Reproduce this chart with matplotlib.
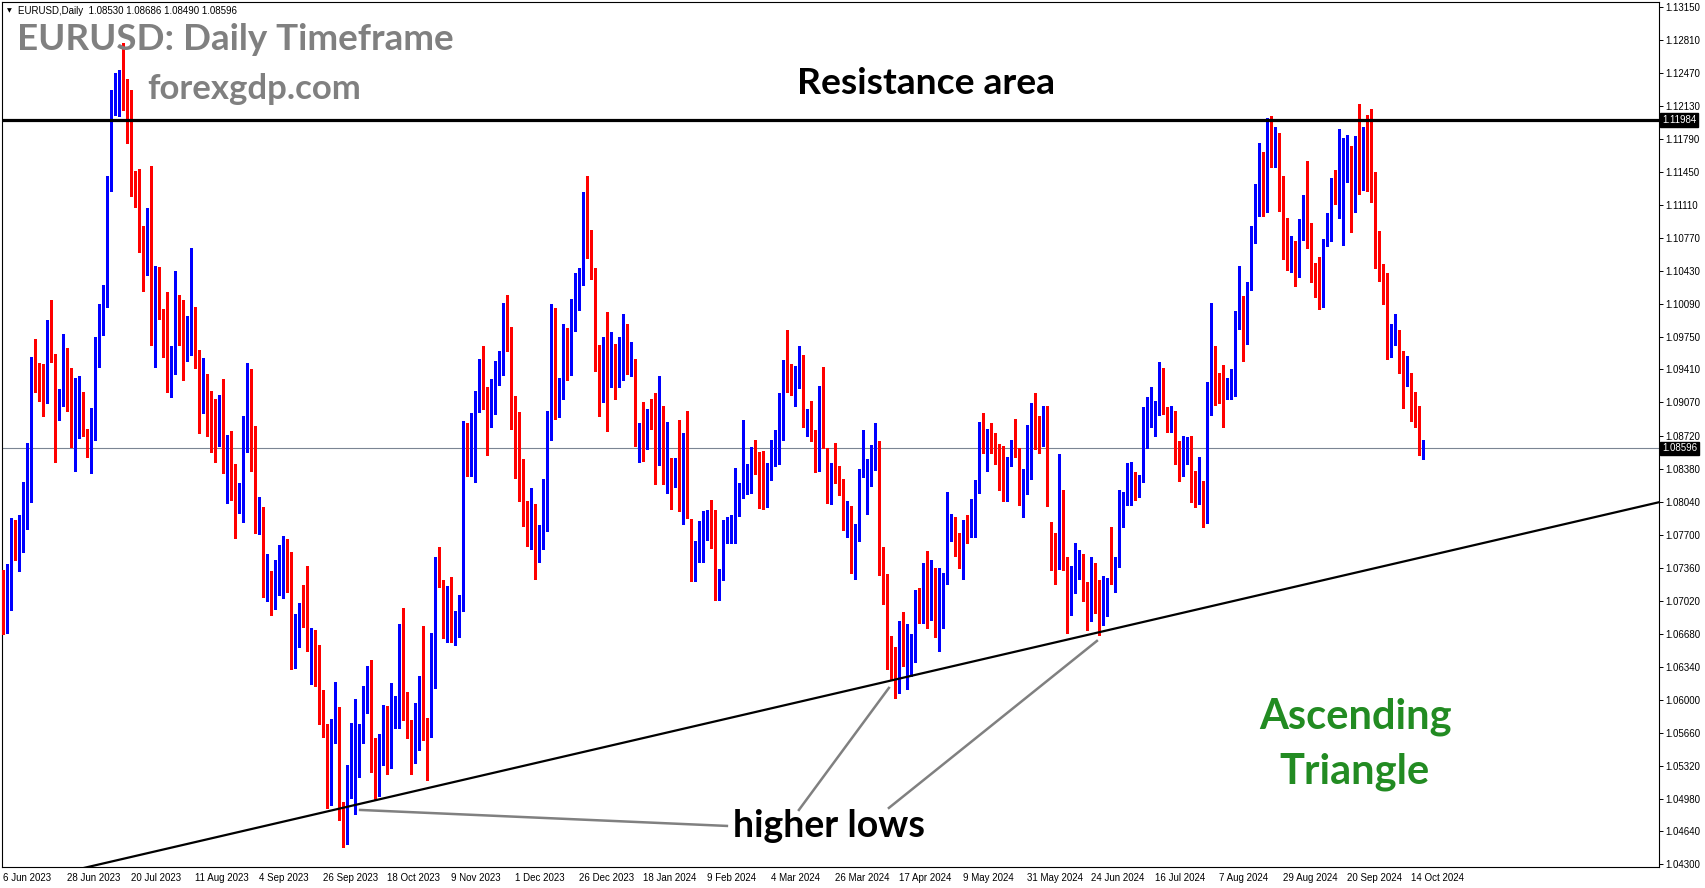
import matplotlib
matplotlib.use("Agg")
import matplotlib.pyplot as plt
import matplotlib.transforms as mtransforms
import numpy as np

# ---------------- data (EURUSD daily) ----------------
opens = [
1.0712,1.0693,1.0698,1.0782,1.0747,1.0755,1.0793,1.0826,1.0945,1.0941,
1.0922,1.0914,1.0987,1.0956,1.0904,1.0906,1.0959,1.0914,1.0866,1.0911,
1.0909,1.0879,1.0855,1.0883,1.0958,1.1001,1.1007,1.1125,1.1224,1.1228,
1.1234,1.1227,1.1199,1.1130,1.1124,1.1065,1.1049,1.1086,1.0977,1.1020,
1.0997,1.0985,1.0938,1.0949,1.1011,1.1004,1.0956,1.0974,1.0978,1.0950,
1.0905,1.0904,1.0879,1.0873,1.0866,1.0892,1.0845,1.0864,1.0811,1.0795,
1.0820,1.0876,1.0924,1.0844,1.0776,1.0792,1.0722,1.0723,1.0698,1.0713,
1.0750,1.0755,1.0729,1.0642,1.0656,1.0692,1.0679,1.0656,1.0658,1.0644,
1.0593,1.0572,1.0501,1.0565,1.0567,1.0478,1.0467,1.0503,1.0542,1.0550,
1.0565,1.0597,1.0619,1.0527,1.0504,1.0560,1.0577,1.0532,1.0583,1.0595,
1.0667,1.0590,1.0567,1.0563,1.0564,1.0616,1.0573,1.0570,1.0621,1.0725,
1.0718,1.0699,1.0709,1.0666,1.0683,1.0698,1.0879,1.0847,1.0852,1.0909,
1.0940,1.0910,1.0888,1.0899,1.0944,1.0953,1.0993,1.0970,1.0888,1.0878,
1.0837,1.0796,1.0762,1.0794,1.0758,1.0764,1.0794,1.0873,1.0990,1.0897,
1.0921,1.0982,1.0937,1.1012,1.1002,1.1041,1.1106,1.1062,1.1045,1.0942,
1.0921,1.0945,1.0933,1.0951,1.0931,1.0972,1.0973,1.0946,1.0949,1.0871,
1.0881,1.0872,1.0892,1.0883,1.0842,1.0883,1.0840,1.0843,1.0831,1.0839,
1.0818,1.0872,1.0786,1.0739,1.0752,1.0770,1.0776,1.0778,1.0772,1.0708,
1.0726,1.0766,1.0774,1.0777,1.0806,1.0818,1.0817,1.0831,1.0848,1.0844,
1.0834,1.0799,1.0827,1.0853,1.0853,1.0894,1.0948,1.0944,1.0919,1.0925,
1.0948,1.0882,1.0892,1.0872,1.0859,1.0920,1.0856,1.0809,1.0837,1.0831,
1.0826,1.0787,1.0787,1.0743,1.0770,1.0835,1.0832,1.0837,1.0854,1.0857,
1.0741,1.0724,1.0640,1.0624,1.0614,1.0673,1.0642,1.0649,1.0652,1.0702,
1.0694,1.0728,1.0688,1.0718,1.0666,1.0696,1.0725,1.0769,1.0768,1.0753,
1.0748,1.0783,1.0770,1.0791,1.0820,1.0884,1.0867,1.0868,1.0858,1.0852,
1.0822,1.0814,1.0845,1.0858,1.0858,1.0801,1.0827,1.0847,1.0906,1.0879,
1.0868,1.0887,1.0773,1.0765,1.0737,1.0809,1.0737,1.0703,1.0734,1.0739,
1.0744,1.0700,1.0681,1.0730,1.0712,1.0679,1.0704,1.0744,1.0738,1.0745,
1.0778,1.0802,1.0802,1.0825,1.0810,1.0825,1.0861,1.0885,1.0893,1.0898,
1.0938,1.0896,1.0884,1.0891,1.0848,1.0837,1.0843,1.0866,1.0821,1.0815,
1.0822,1.0788,1.0925,1.0953,1.0929,1.0922,1.0914,1.0916,1.0931,1.0985,
1.1014,1.0973,1.1028,1.1078,1.1127,1.1145,1.1106,1.1187,1.1161,1.1183,
1.1119,1.1076,1.1047,1.1062,1.1038,1.1081,1.1101,1.1078,1.1034,1.1015,
1.1008,1.1074,1.1076,1.1131,1.1113,1.1118,1.1159,1.1172,1.1110,1.1174,
1.1127,1.1173,1.1153,1.1125,1.1066,1.1045,1.1031,1.0964,1.0971,1.0971,
1.0939,1.0925,1.0932,1.0899,1.0888,1.08530]

highs = [
1.0734,1.0740,1.0788,1.0786,1.0791,1.0825,1.0865,1.0954,1.0972,1.0948,
1.0947,1.0992,1.1013,1.0957,1.0921,1.0978,1.0963,1.0942,1.0932,1.0934,
1.0918,1.0880,1.0901,1.0975,1.1009,1.1028,1.1141,1.1230,1.1247,1.1250,
1.1278,1.1241,1.1230,1.1146,1.1148,1.1089,1.1108,1.1151,1.1048,1.1047,
1.1003,1.1021,1.0965,1.1043,1.1018,1.1013,1.0996,1.1066,1.1006,1.0961,
1.0953,1.0936,1.0919,1.0911,1.0915,1.0931,1.0873,1.0877,1.0843,1.0824,
1.0893,1.0948,1.0941,1.0883,1.0809,1.0799,1.0750,1.0733,1.0744,1.0760,
1.0769,1.0766,1.0753,1.0688,1.0700,1.0718,1.0738,1.0674,1.0672,1.0656,
1.0610,1.0575,1.0580,1.0618,1.0592,1.0494,1.0533,1.0576,1.0601,1.0575,
1.0614,1.0635,1.0641,1.0560,1.0565,1.0595,1.0594,1.0617,1.0604,1.0678,
1.0695,1.0608,1.0579,1.0597,1.0625,1.0676,1.0581,1.0669,1.0747,1.0758,
1.0724,1.0717,1.0727,1.0692,1.0708,1.0888,1.0886,1.0896,1.0919,1.0952,
1.0965,1.0923,1.0931,1.0950,1.0960,1.1010,1.1018,1.0985,1.0914,1.0897,
1.0849,1.0805,1.0819,1.0802,1.0780,1.0828,1.0898,1.1009,1.1004,1.0932,
1.0988,1.0984,1.1014,1.1041,1.1046,1.1124,1.1141,1.1085,1.1046,1.0966,
1.0974,1.1000,1.0980,1.0967,1.0975,1.0998,1.0988,1.0969,1.0952,1.0886,
1.0907,1.0900,1.0911,1.0917,1.0934,1.0903,1.0887,1.0850,1.0850,1.0889,
1.0875,1.0898,1.0787,1.0764,1.0785,1.0795,1.0796,1.0806,1.0796,1.0735,
1.0786,1.0789,1.0791,1.0839,1.0824,1.0889,1.0843,1.0861,1.0868,1.0856,
1.0857,1.0844,1.0868,1.0878,1.0917,1.0951,1.0982,1.0947,1.0945,1.0965,
1.0956,1.0900,1.0908,1.0878,1.0924,1.0944,1.0860,1.0844,1.0865,1.0841,
1.0828,1.0805,1.0800,1.0781,1.0838,1.0878,1.0849,1.0863,1.0886,1.0867,
1.0758,1.0730,1.0666,1.0654,1.0681,1.0691,1.0678,1.0668,1.0713,1.0715,
1.0741,1.0754,1.0744,1.0736,1.0736,1.0731,1.0814,1.0792,1.0789,1.0772,
1.0786,1.0791,1.0807,1.0827,1.0887,1.0896,1.0880,1.0886,1.0875,1.0864,
1.0862,1.0851,1.0868,1.0890,1.0860,1.0838,1.0884,1.0906,1.0917,1.0893,
1.0903,1.0903,1.0783,1.0772,1.0854,1.0817,1.0747,1.0738,1.0762,1.0755,
1.0750,1.0722,1.0747,1.0741,1.0724,1.0728,1.0726,1.0778,1.0747,1.0817,
1.0814,1.0844,1.0845,1.0835,1.0832,1.0902,1.0913,1.0923,1.0908,1.0949,
1.0942,1.0902,1.0903,1.0898,1.0867,1.0872,1.0871,1.0872,1.0836,1.0851,
1.0826,1.0928,1.1010,1.0965,1.0937,1.0946,1.0932,1.0941,1.1001,1.1048,
1.1017,1.1031,1.1089,1.1132,1.1175,1.1166,1.1201,1.1203,1.1191,1.1185,
1.1141,1.1097,1.1079,1.1074,1.1096,1.1121,1.1156,1.1092,1.1051,1.1057,
1.1076,1.1103,1.1139,1.1147,1.1189,1.1180,1.1183,1.1172,1.1182,1.1215,
1.1191,1.1204,1.1210,1.1145,1.1084,1.1050,1.1041,1.0988,1.0998,1.0982,
1.0960,1.0955,1.0937,1.0918,1.0903,1.08686]

lows = [
1.0668,1.0669,1.0693,1.0744,1.0733,1.0753,1.0776,1.0804,1.0918,1.0908,
1.0893,1.0906,1.0949,1.0845,1.0889,1.0903,1.0898,1.0861,1.0836,1.0870,
1.0872,1.0851,1.0834,1.0868,1.0944,1.0977,1.1006,1.1125,1.1204,1.1203,
1.1209,1.1175,1.1120,1.1109,1.1062,1.1022,1.1039,1.0966,1.0944,1.0993,
1.0954,1.0918,1.0913,1.0936,1.0966,1.0930,1.0950,1.0956,1.0942,1.0875,
1.0896,1.0872,1.0856,1.0845,1.0862,1.0834,1.0803,1.0806,1.0767,1.0793,
1.0784,1.0856,1.0836,1.0772,1.0771,1.0706,1.0702,1.0687,1.0694,1.0708,
1.0705,1.0711,1.0632,1.0633,1.0654,1.0675,1.0650,1.0616,1.0614,1.0575,
1.0562,1.0488,1.0491,1.0555,1.0476,1.0448,1.0451,1.0499,1.0482,1.0520,
1.0555,1.0586,1.0525,1.0497,1.0501,1.0533,1.0523,1.0529,1.0571,1.0571,
1.0579,1.0560,1.0523,1.0535,1.0548,1.0558,1.0517,1.0562,1.0612,1.0716,
1.0664,1.0660,1.0660,1.0656,1.0665,1.0692,1.0831,1.0831,1.0825,1.0897,
1.0900,1.0853,1.0882,1.0895,1.0925,1.0935,1.0960,1.0880,1.0829,1.0805,
1.0779,1.0759,1.0756,1.0725,1.0742,1.0756,1.0774,1.0868,1.0890,1.0892,
1.0911,1.0930,1.0935,1.0981,1.1002,1.1028,1.1056,1.1034,1.0939,1.0893,
1.0907,1.0877,1.0923,1.0911,1.0923,1.0930,1.0936,1.0934,1.0862,1.0845,
1.0847,1.0859,1.0880,1.0823,1.0842,1.0823,1.0813,1.0797,1.0820,1.0795,
1.0781,1.0788,1.0723,1.0723,1.0742,1.0742,1.0765,1.0757,1.0703,1.0703,
1.0724,1.0762,1.0762,1.0762,1.0790,1.0808,1.0812,1.0813,1.0833,1.0798,
1.0797,1.0799,1.0827,1.0841,1.0843,1.0868,1.0918,1.0915,1.0903,1.0922,
1.0882,1.0872,1.0867,1.0835,1.0836,1.0860,1.0803,1.0802,1.0824,1.0811,
1.0775,1.0768,1.0731,1.0725,1.0764,1.0830,1.0792,1.0821,1.0837,1.0729,
1.0699,1.0632,1.0621,1.0602,1.0607,1.0635,1.0611,1.0624,1.0639,1.0679,
1.0679,1.0674,1.0682,1.0665,1.0650,1.0674,1.0720,1.0764,1.0748,1.0736,
1.0725,1.0762,1.0768,1.0768,1.0813,1.0855,1.0836,1.0855,1.0843,1.0817,
1.0805,1.0805,1.0841,1.0851,1.0801,1.0789,1.0812,1.0828,1.0859,1.0855,
1.0862,1.0800,1.0734,1.0720,1.0735,1.0734,1.0669,1.0687,1.0710,1.0725,
1.0702,1.0672,1.0681,1.0690,1.0667,1.0677,1.0686,1.0720,1.0711,1.0737,
1.0778,1.0801,1.0801,1.0806,1.0809,1.0825,1.0860,1.0882,1.0872,1.0894,
1.0895,1.0876,1.0876,1.0843,1.0826,1.0831,1.0843,1.0804,1.0799,1.0802,
1.0778,1.0782,1.0894,1.0904,1.0906,1.0882,1.0910,1.0910,1.0914,1.0983,
1.0950,1.0967,1.1023,1.1072,1.1099,1.1099,1.1104,1.1150,1.1150,1.1105,
1.1055,1.1044,1.1042,1.1027,1.1036,1.1075,1.1066,1.1031,1.1016,1.1003,
1.1006,1.1068,1.1074,1.1112,1.1097,1.1069,1.1135,1.1083,1.1104,1.1122,
1.1126,1.1125,1.1114,1.1046,1.1032,1.1009,1.0952,1.0954,1.0966,1.0937,
1.0901,1.0924,1.0888,1.0882,1.0853,1.08490]

closes = [
1.0693,1.0700,1.0785,1.0749,1.0759,1.0794,1.0832,1.0947,1.0942,1.0922,
1.0918,1.0987,1.0957,1.0896,1.0906,1.0962,1.0913,1.0865,1.0910,1.0915,
1.0880,1.0855,1.0893,1.0969,1.1003,1.1009,1.1133,1.1228,1.1227,1.1238,
1.1228,1.1203,1.1130,1.1126,1.1065,1.1056,1.1087,1.0977,1.1017,1.0996,
1.0985,1.0939,1.0950,1.1011,1.1004,1.0957,1.0975,1.0982,1.0948,1.0907,
1.0906,1.0880,1.0873,1.0868,1.0896,1.0846,1.0864,1.0811,1.0794,1.0820,
1.0880,1.0924,1.0844,1.0774,1.0797,1.0722,1.0727,1.0696,1.0701,1.0751,
1.0756,1.0729,1.0645,1.0662,1.0692,1.0679,1.0661,1.0662,1.0646,1.0591,
1.0572,1.0502,1.0567,1.0574,1.0477,1.0465,1.0504,1.0552,1.0585,1.0568,
1.0606,1.0620,1.0528,1.0509,1.0560,1.0577,1.0536,1.0583,1.0595,1.0669,
1.0590,1.0565,1.0563,1.0567,1.0616,1.0576,1.0570,1.0624,1.0728,1.0717,
1.0700,1.0709,1.0668,1.0686,1.0700,1.0880,1.0847,1.0854,1.0914,1.0942,
1.0910,1.0889,1.0906,1.0939,1.0955,1.0996,1.0970,1.0890,1.0884,1.0837,
1.0799,1.0764,1.0794,1.0762,1.0765,1.0795,1.0876,1.0993,1.0894,1.0925,
1.0982,1.0943,1.1012,1.1015,1.1043,1.1107,1.1063,1.1038,1.0942,1.0922,
1.0947,1.0942,1.0951,1.0931,1.0974,1.0974,1.0950,1.0951,1.0876,1.0883,
1.0876,1.0899,1.0883,1.0854,1.0886,1.0846,1.0856,1.0834,1.0847,1.0818,
1.0874,1.0788,1.0743,1.0755,1.0774,1.0779,1.0787,1.0772,1.0710,1.0729,
1.0773,1.0777,1.0778,1.0808,1.0821,1.0824,1.0822,1.0852,1.0844,1.0838,
1.0806,1.0842,1.0857,1.0858,1.0899,1.0949,1.0938,1.0925,1.0927,1.0949,
1.0884,1.0888,1.0872,1.0866,1.0923,1.0860,1.0809,1.0838,1.0831,1.0828,
1.0788,1.0793,1.0744,1.0770,1.0837,1.0838,1.0837,1.0860,1.0858,1.0743,
1.0726,1.0641,1.0625,1.0620,1.0674,1.0643,1.0657,1.0654,1.0703,1.0699,
1.0731,1.0693,1.0720,1.0666,1.0714,1.0726,1.0765,1.0771,1.0755,1.0749,
1.0783,1.0770,1.0791,1.0821,1.0885,1.0868,1.0871,1.0857,1.0854,1.0822,
1.0816,1.0847,1.0858,1.0856,1.0801,1.0833,1.0849,1.0906,1.0879,1.0869,
1.0890,1.0803,1.0766,1.0740,1.0811,1.0738,1.0707,1.0736,1.0740,1.0745,
1.0702,1.0692,1.0735,1.0715,1.0681,1.0706,1.0714,1.0740,1.0747,1.0788,
1.0813,1.0839,1.0826,1.0814,1.0831,1.0868,1.0908,1.0895,1.0899,1.0941,
1.0898,1.0883,1.0891,1.0853,1.0840,1.0845,1.0856,1.0821,1.0815,1.0827,
1.0791,1.0911,1.0952,1.0932,1.0923,1.0919,1.0917,1.0934,1.0995,1.1013,
1.0972,1.1029,1.1087,1.1131,1.1151,1.1111,1.1192,1.1161,1.1186,1.1120,
1.1078,1.1048,1.1074,1.1044,1.1084,1.1112,1.1086,1.1035,1.1019,1.1011,
1.1076,1.1076,1.1133,1.1114,1.1118,1.1163,1.1163,1.1111,1.1181,1.1133,
1.1178,1.1164,1.1135,1.1068,1.1045,1.1029,1.0975,1.0976,1.0982,1.0940,
1.0938,1.0937,1.0909,1.0892,1.0862,1.08596]

date_labels = ["6 Jun 2023", "28 Jun 2023", "20 Jul 2023", "11 Aug 2023", "4 Sep 2023",
               "26 Sep 2023", "18 Oct 2023", "9 Nov 2023", "1 Dec 2023", "26 Dec 2023",
               "18 Jan 2024", "9 Feb 2024", "4 Mar 2024", "26 Mar 2024", "17 Apr 2024",
               "9 May 2024", "31 May 2024", "24 Jun 2024", "16 Jul 2024", "7 Aug 2024",
               "29 Aug 2024", "20 Sep 2024", "14 Oct 2024"]
date_label_every = 16

price_ticks = ["1.04300", "1.04640", "1.04980", "1.05320", "1.05660", "1.06000", "1.06340",
               "1.06680", "1.07020", "1.07360", "1.07700", "1.08040", "1.08380", "1.08720",
               "1.09070", "1.09410", "1.09750", "1.10090", "1.10430", "1.10770", "1.11110",
               "1.11450", "1.11790", "1.12130", "1.12470", "1.12810", "1.13150"]

resistance_level = 1.11984
last_price = 1.08596
trend_x = [0, 414]
trend_y = [1.0407, 1.0804]
pointer_lines = [((89.2, 1.04862), (180.9, 1.04697)),
                 ((198.9, 1.04862), (221.4, 1.06122)),
                 ((221.4, 1.04883), (273.4, 1.06607))]

# ---------------- figure ----------------
W, H = 1705, 888
fig = plt.figure(figsize=(W / 100, H / 100), dpi=100)
fig.patch.set_facecolor("white")
ax_left, ax_right, ax_top, ax_bot = 2, 1659, 2, 866.7
ax = fig.add_axes([ax_left / W, (H - ax_bot) / H, (ax_right - ax_left) / W, (ax_bot - ax_top) / H])

o = np.array(opens); hi = np.array(highs); lo = np.array(lows); c = np.array(closes)
x = np.arange(len(c))
bull, bear = "#0000FF", "#FF0000"
cols = np.where(c >= o, bull, bear)

ax.vlines(x, lo, hi, colors=cols, linewidth=0.9, antialiased=False, zorder=3)
body_bottom = np.minimum(o, c)
body_height = np.maximum(np.abs(c - o), 0.00011)
ax.bar(x, body_height, bottom=body_bottom, width=0.82, color=cols, linewidth=0,
       antialiased=False, zorder=4)

ax.axhline(resistance_level, color="black", linewidth=2.3, zorder=5)
ax.axhline(last_price, color="#7b8593", linewidth=0.8, zorder=2)
ax.plot(trend_x, trend_y, color="black", linewidth=1.6, zorder=5, solid_capstyle="butt")
for (x0, y0), (x1, y1) in pointer_lines:
    ax.plot([x0, x1], [y0, y1], color="#808080", linewidth=1.8, zorder=5)

ax.set_xlim(-0.325, 413.925)
ax.set_ylim(1.04276, 1.13204)

for sp in ax.spines.values():
    sp.set_color("black")
    sp.set_linewidth(0.8)

ax.yaxis.tick_right()
ax.set_yticks([float(t) for t in price_ticks])
ax.set_yticklabels(price_ticks)
ax.tick_params(axis="y", direction="out", length=3, width=0.7, pad=1.5,
               labelsize=7, colors="black")
for lab in ax.get_yticklabels():
    lab.set_family("Liberation Sans")

ax.set_xticks(np.arange(len(date_labels)) * date_label_every)
ax.set_xticklabels(date_labels, ha="left")
ax.tick_params(axis="x", length=0, pad=4.5, labelsize=7)
for lab in ax.get_xticklabels():
    lab.set_family("Liberation Sans")

# price boxes on the right scale
trans = mtransforms.blended_transform_factory(ax.transAxes, ax.transData)
for val in (resistance_level, last_price):
    ax.text(1.0018, val, f"{val:.5f}", transform=trans, color="white", fontsize=7,
            family="Liberation Sans", va="center", ha="left",
            bbox=dict(facecolor="black", edgecolor="black", boxstyle="square,pad=0.18"),
            zorder=10)

# header
fig.text(6.5 / W, 1 - 11 / H, "\u25BC", fontsize=4.5, va="center", ha="left", color="black")
fig.text(18 / W, 1 - 11 / H, "EURUSD,Daily  1.08530 1.08686 1.08490 1.08596",
         fontsize=7, family="Liberation Sans", va="center", ha="left", color="black")

# watermark titles
fig.text(17 / W, 1 - 50 / H, "EURUSD: Daily Timeframe", fontsize=26.5, fontweight="bold",
         family="Lato", color="#808080", va="baseline", ha="left")
fig.text(147 / W, 1 - 99 / H, "forexgdp.com", fontsize=25, fontweight="bold",
         family="Lato", color="#808080", va="baseline", ha="left")

# annotations
fig.text(926 / W, 1 - 94 / H, "Resistance area", fontsize=26.8, fontweight="bold",
         family="Lato", color="black", va="baseline", ha="center")
fig.text(829 / W, 1 - 837 / H, "higher lows", fontsize=27, fontweight="bold",
         family="Lato", color="black", va="baseline", ha="center")
fig.text(1356 / W, 1 - 728 / H, "Ascending", fontsize=30, fontweight="bold",
         family="Lato", color="#228B22", va="baseline", ha="center")
fig.text(1354 / W, 1 - 783 / H, "Triangle", fontsize=30, fontweight="bold",
         family="Lato", color="#228B22", va="baseline", ha="center")

fig.savefig("out.png", dpi=100, facecolor="white")
